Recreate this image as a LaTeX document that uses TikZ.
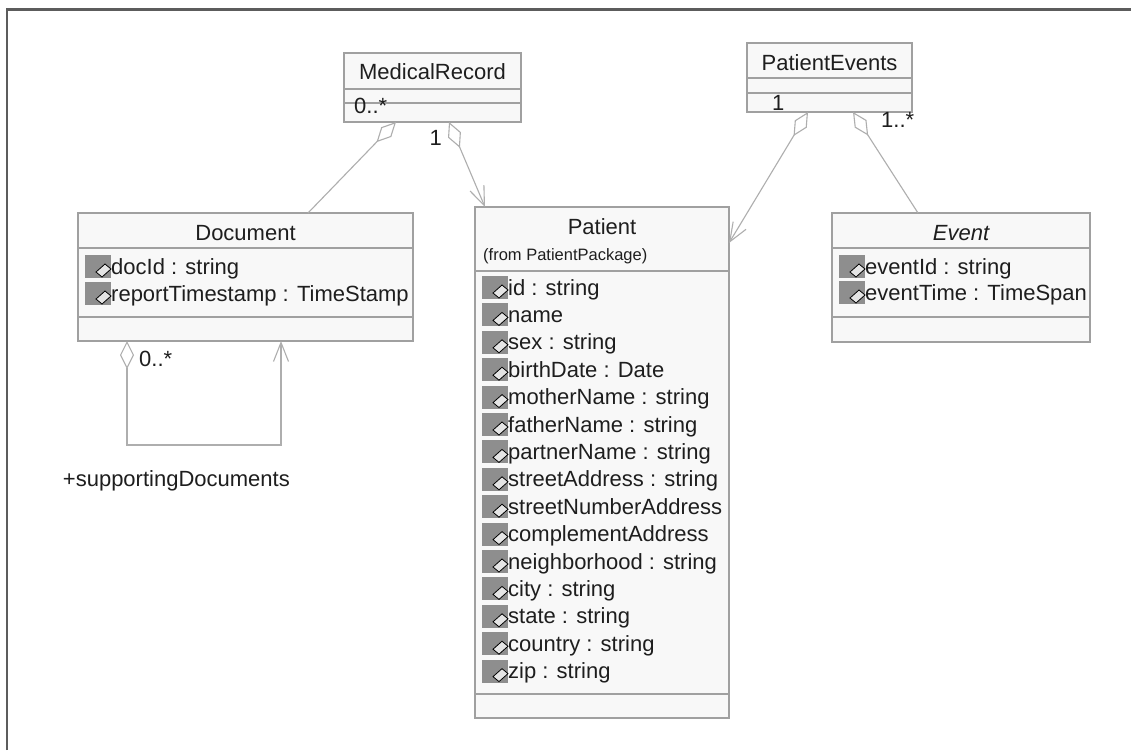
\documentclass[tikz,border=0pt]{standalone}
\usepackage{fontspec}
\setmainfont{Liberation Sans}
\usetikzlibrary{arrows.meta,calc}
\definecolor{boxfill}{HTML}{F8F8F8}
\definecolor{boxline}{HTML}{A0A0A0}
\definecolor{conn}{HTML}{AEAEAE}
\definecolor{ink}{HTML}{1E1E1E}
\definecolor{iconfill}{HTML}{8E8E8E}
\definecolor{framecol}{HTML}{5C5C5C}
\tikzset{
  umlbox/.style={draw=boxline, fill=boxfill, line width=1.2pt, anchor=north west, inner sep=0, outer sep=0},
  cline/.style={draw=boxline, line width=1.2pt},
  clsname/.style={anchor=base, inner sep=0, text=ink, font=\fontsize{22}{26}\selectfont},
  attr/.style={anchor=base west, inner sep=0, text=ink, font=\fontsize{22}{26}\selectfont},
  lbl/.style={inner sep=0, text=ink, font=\fontsize{22}{26}\selectfont},
  assoc/.style={draw=conn, line width=1.1pt},
  agg/.style={{Diamond[fill=white,length=28pt,width=14pt]}-},
  aggnav/.style={{Diamond[fill=white,length=28pt,width=14pt]}-{Straight Barb[length=19pt,width=15pt]}},
}
\newcommand\attrrow[4]{%
  \fill[iconfill] (#2+7,#3-19) rectangle (#2+33,#3+4);
  \draw[black,line width=0.8pt,fill=white!80!gray] (#2+18,#3-2) -- (#2+27,#3-10) -- (#2+33,#3-5) -- (#2+24,#3+3) -- cycle;
  \node[attr] (#1) at (#2+33,#3) {#4};
}
\begin{document}
\begin{tikzpicture}[x=1pt,y=-1pt]
\useasboundingbox (0,0) rectangle (1131,750);
\fill[white] (0,0) rectangle (1131,750);
% frame
\draw[framecol,line width=2.5pt] (7,750) -- (7,9.3) -- (1131,9.3);

% boxes
\node[umlbox, minimum width=177pt, minimum height=69pt] (mr) at (344,53) {};
\node[umlbox, minimum width=165pt, minimum height=69pt] (pe) at (747,43) {};
\node[umlbox, minimum width=335pt, minimum height=128pt] (doc) at (78,213) {};
\node[umlbox, minimum width=254pt, minimum height=511pt] (pat) at (475,207) {};
\node[umlbox, minimum width=258pt, minimum height=129pt] (ev) at (832,213) {};

% compartments
\draw[cline] ($(mr.north west)+(0,36)$) -- ($(mr.north east)+(0,36)$);
\draw[cline] ($(mr.north west)+(0,50)$) -- ($(mr.north east)+(0,50)$);
\draw[cline] ($(pe.north west)+(0,35)$) -- ($(pe.north east)+(0,35)$);
\draw[cline] ($(pe.north west)+(0,50)$) -- ($(pe.north east)+(0,50)$);
\draw[cline] ($(doc.north west)+(0,35)$) -- ($(doc.north east)+(0,35)$);
\draw[cline] ($(doc.north west)+(0,104)$) -- ($(doc.north east)+(0,104)$);
\draw[cline] ($(pat.north west)+(0,64)$) -- ($(pat.north east)+(0,64)$);
\draw[cline] ($(pat.north west)+(0,487)$) -- ($(pat.north east)+(0,487)$);
\draw[cline] ($(ev.north west)+(0,35)$) -- ($(ev.north east)+(0,35)$);
\draw[cline] ($(ev.north west)+(0,104)$) -- ($(ev.north east)+(0,104)$);

% class names
\node[clsname] (mrname) at ($(mr.north)+(0,26)$) {MedicalRecord};
\node[clsname] (pename) at ($(pe.north)+(0,27)$) {PatientEvents};
\node[clsname] (docname) at ($(doc.north)+(0,27)$) {Document};
\node[clsname] (patname) at ($(pat.north)+(0,27)$) {Patient};
\node[clsname, font=\fontsize{22}{26}\selectfont\itshape] (evname) at ($(ev.north)+(0,27)$) {Event};
\node[anchor=base west, inner sep=0, text=ink, font=\fontsize{16.5}{19}\selectfont] (patpkg) at (483,260) {(from PatientPackage)};

% attributes
\attrrow{da1}{78}{274}{docId : string}
\attrrow{da2}{78}{301}{reportTimestamp : TimeStamp}
\attrrow{ea1}{832}{274}{eventId : string}
\attrrow{ea2}{832}{300}{eventTime : TimeSpan}
\foreach \t [count=\i from 0] in {id : string, name, sex : string, birthDate : Date, motherName : string, fatherName : string, partnerName : string, streetAddress : string, streetNumberAddress, complementAddress, neighborhood : string, city : string, state : string, country : string, zip : string}{
  \pgfmathsetmacro\yy{295+27.4*\i}
  \attrrow{pa\i}{475}{\yy}{\t}
}

% multiplicity labels inside boxes
\node[lbl, anchor=base west] (mrmult) at (354,113) {0..*};
\node[lbl, anchor=base west] (pemult) at (772,110) {1};

% connectors
\coordinate (mrA) at ($(mr.south west)+(52,0)$);
\coordinate (mrB) at ($(mr.south west)+(105,0)$);
\coordinate (peA) at ($(pe.south west)+(61,0)$);
\coordinate (peB) at ($(pe.south west)+(106,0)$);
\coordinate (docTop) at ($(doc.north west)+(230,0)$);
\coordinate (patTop) at ($(pat.north west)+(10,0)$);
\coordinate (patRight) at ($(pat.north east)+(0,36)$);
\coordinate (evTop) at ($(ev.north west)+(86,0)$);
\coordinate (docS1) at ($(doc.south west)+(49,0)$);
\coordinate (docS2) at ($(doc.south west)+(203,0)$);

\draw[assoc, agg] (mrA) -- (docTop);
\draw[assoc, aggnav] (mrB) -- (patTop);
\draw[assoc, aggnav] (peA) -- (patRight);
\draw[assoc, agg] (peB) -- (evTop);
\draw[assoc, aggnav] (docS1) -- ++(0,104) -| (docS2);

% association labels
\node[lbl, anchor=base east] (l1) at (442,145) {1};
\node[lbl, anchor=base west] (l2) at (881,127) {1..*};
\node[lbl, anchor=base west] (l3) at (139,366) {0..*};
\node[lbl, anchor=base east] (l4) at (290,486) {+supportingDocuments};
\end{tikzpicture}
\end{document}
